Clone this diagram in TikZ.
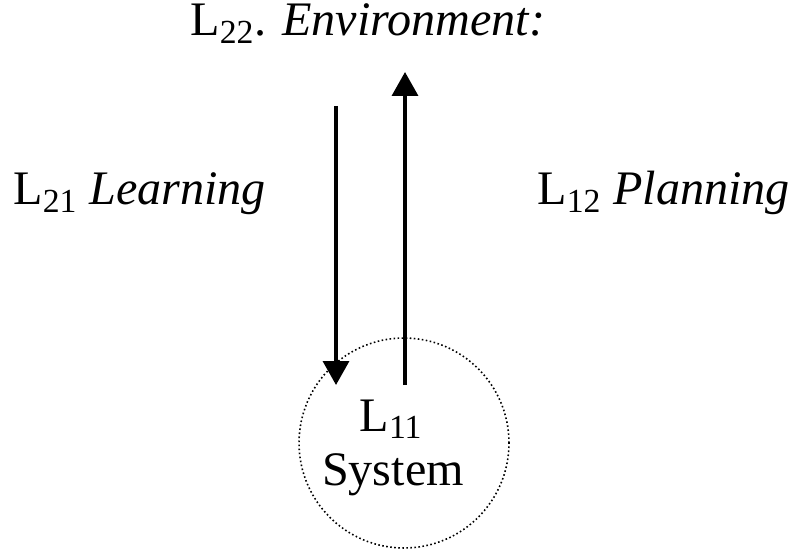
\documentclass[tikz,border=0pt]{standalone}
\usepackage{fontspec}
\setmainfont{Liberation Serif}
\usetikzlibrary{arrows.meta}

\begin{document}
\begin{tikzpicture}[x=0.02cm,y=-0.02cm]

\useasboundingbox (0,0) rectangle (793,550);
\tikzset{
  label/.style={inner sep=0, font=\fontsize{27.4}{32}\selectfont},
  flow/.style={line width=2pt, -{Triangle[width=0.52cm,length=0.48cm]}}
}

% Draw the labels
\node[label, anchor=base west] (env) at (190,36) {L\textsubscript{22}. \textit{Environment:}};
\node[label, anchor=base west] (learn) at (13,205) {L\textsubscript{21} \textit{Learning}};
\node[label, anchor=base west] (plan) at (537,205) {L\textsubscript{12} \textit{Planning}};

% Draw the system
\node[draw, circle, dotted, line width=0.9pt, dash pattern=on 0.9pt off 1.4pt, minimum size=4.2cm, inner sep=0] (sys) at (404,443) {};
\node[label, anchor=base] (sysL) at (391,431) {L\textsubscript{11}};
\node[label, anchor=base] (sysT) at (393,485) {System};

% Draw the arrows
\coordinate (learnTop) at (336,106);
\coordinate (learnTip) at (336,385);
\coordinate (planBot) at (405,385);
\coordinate (planTip) at (405,72);
\draw[flow] (learnTop) -- (learnTip);
\draw[flow] (planBot) -- (planTip);

\end{tikzpicture}
\end{document}
